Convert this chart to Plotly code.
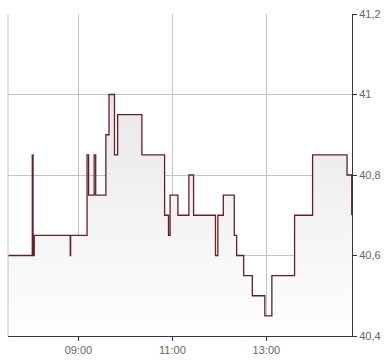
import plotly.graph_objects as go

day = "2024-01-02 "
times = ["07:30:00", "08:01:00", "08:02:00", "08:03:30", "08:49:30", "08:50:00",
         "09:11:00", "09:13:00", "09:20:00", "09:22:00", "09:35:00", "09:39:00",
         "09:46:00", "09:50:00", "10:21:00", "10:50:00", "10:55:00", "10:57:00",
         "11:07:00", "11:21:00", "11:27:00", "11:55:00", "11:58:00", "12:05:00",
         "12:19:00", "12:22:00", "12:31:00", "12:42:00", "12:58:00", "13:07:00",
         "13:36:00", "13:59:00", "14:43:00", "14:49:00"]
prices = [40.6, 40.85, 40.6, 40.65, 40.6, 40.65,
          40.85, 40.75, 40.85, 40.75, 40.9, 41.0,
          40.85, 40.95, 40.85, 40.7, 40.65, 40.75,
          40.7, 40.8, 40.7, 40.6, 40.7, 40.75,
          40.65, 40.6, 40.55, 40.5, 40.45, 40.55,
          40.7, 40.85, 40.8, 40.7]
y_ticks = [40.4, 40.6, 40.8, 41.0, 41.2]

x = [day + t for t in times]

navy = "#1f3864"
grid = "#c4c4c4"
font = dict(family="Liberation Sans, Arial, sans-serif", size=11, color="#666666")

fig = go.Figure()
fig.add_trace(go.Scatter(
    x=x, y=prices, mode="lines", line=dict(shape="hv", color="#6b1e23", width=1.3),
    fill="tozeroy",
    fillgradient=dict(type="vertical", colorscale=[[0, "#ffffff"], [1, "#e8e8e8"]],
                      start=40.4, stop=41.0),
    hoverinfo="skip", showlegend=False,
))

fig.update_layout(
    width=390, height=364,
    margin=dict(l=8, r=38, t=11, b=24),
    paper_bgcolor="white", plot_bgcolor="white",
    separators=",.",
    font=font,
    xaxis=dict(
        type="date",
        range=[day + "07:30:00", day + "14:49:20"],
        tick0=day + "09:00:00", dtick=7200000, tickformat="%H:%M",
        showgrid=True, gridcolor=grid, gridwidth=1,
        showline=True, linecolor=navy, linewidth=1,
        ticks="outside", ticklen=4, tickcolor=navy, tickwidth=1,
        zeroline=False, tickfont=font,
    ),
    yaxis=dict(
        side="right", range=[40.4, 41.2],
        tickvals=y_ticks,
        showgrid=True, gridcolor=grid, gridwidth=1,
        showline=True, linecolor=navy, linewidth=1,
        ticks="outside", ticklen=4, tickcolor=navy, tickwidth=1,
        zeroline=False, tickfont=font,
    ),
    shapes=[dict(type="line", xref="paper", yref="paper", x0=0, x1=0, y0=0, y1=1,
                 line=dict(color=grid, width=1))],
)

fig.write_html("out.html")
